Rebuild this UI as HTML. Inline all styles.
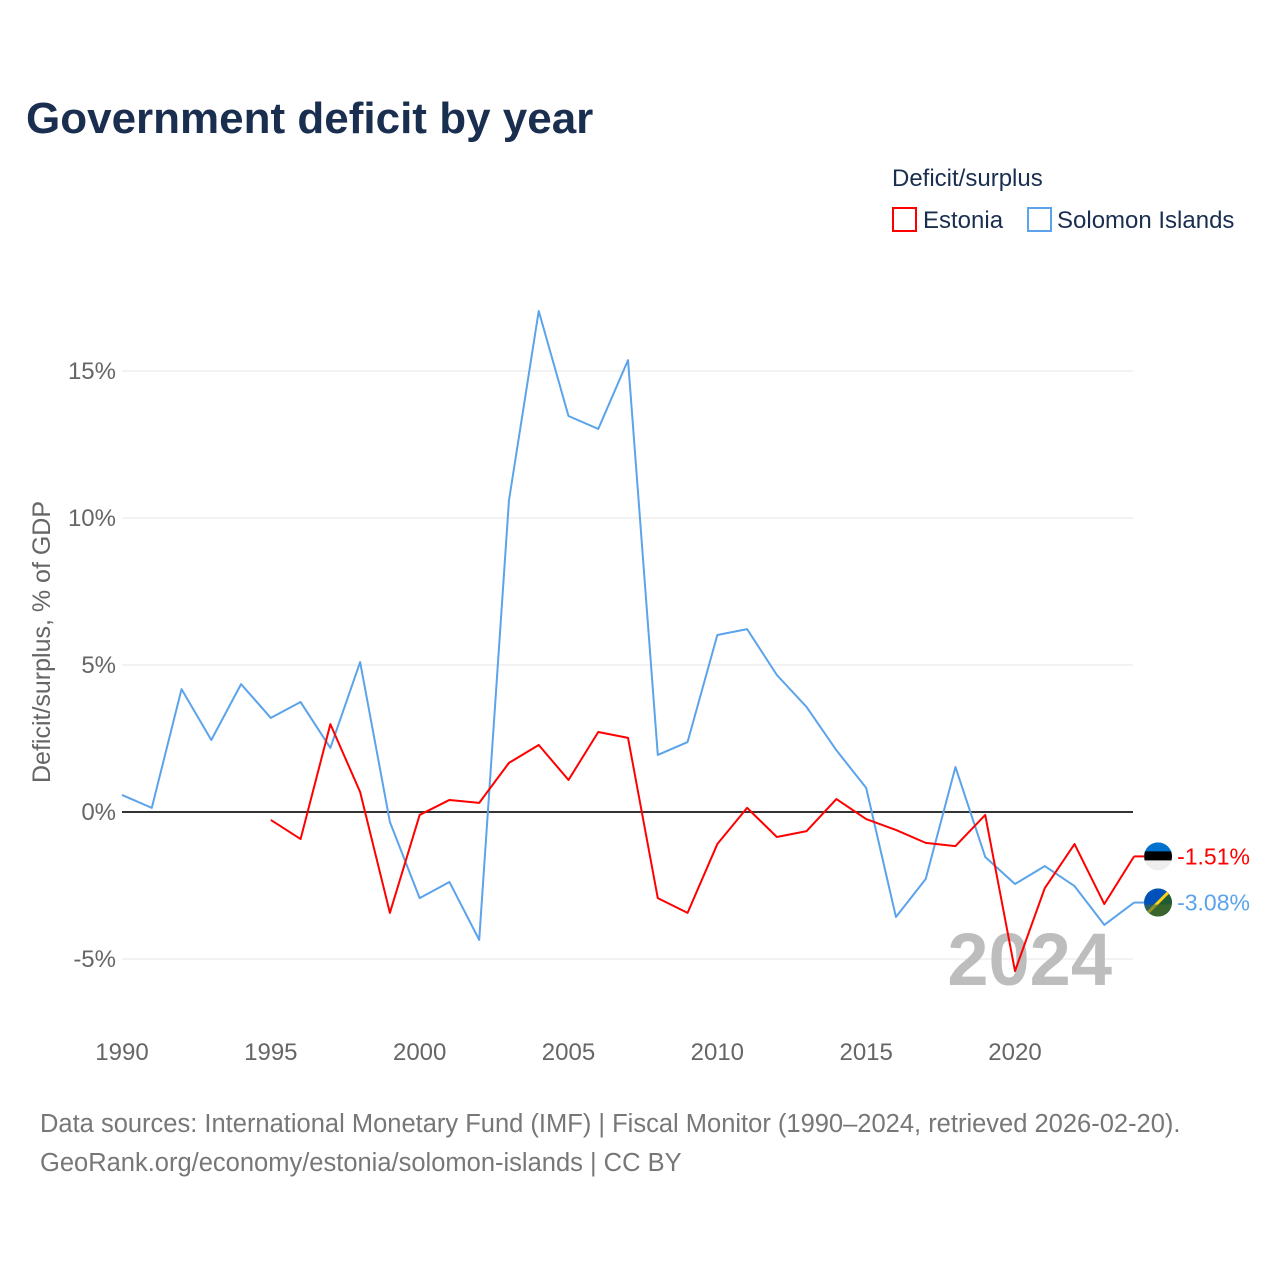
<!DOCTYPE html>
<html><head><meta charset="utf-8"><style>
html,body{margin:0;padding:0;background:#fff;}
body{width:1280px;height:1280px;position:relative;overflow:hidden;font-family:"Liberation Sans",sans-serif;}
</style></head><body>
<svg id="chart" width="1280" height="1280" xmlns="http://www.w3.org/2000/svg" font-family="Liberation Sans, sans-serif">
<text x="26" y="133" font-size="44" font-weight="bold" fill="#1a2e4f">Government deficit by year</text>
<text x="892" y="186" font-size="24" fill="#1a2e4f">Deficit/surplus</text>
<rect x="893" y="208" width="23" height="23" fill="none" stroke="#ff0000" stroke-width="2"/>
<text x="923" y="228" font-size="24" fill="#1a2e4f">Estonia</text>
<rect x="1028" y="208" width="23" height="23" fill="none" stroke="#5ba3ea" stroke-width="2"/>
<text x="1057" y="228" font-size="24" fill="#1a2e4f">Solomon Islands</text>
<text transform="translate(50,642) rotate(-90)" text-anchor="middle" font-size="25" fill="#666">Deficit/surplus, % of GDP</text>
<g id="grid"></g>
<text x="1112" y="985" text-anchor="end" font-size="74" font-weight="bold" fill="#bdbdbd">2024</text>
<g id="series"></g>
<text x="40" y="1132" font-size="25.5" fill="#777">Data sources: International Monetary Fund (IMF) | Fiscal Monitor (1990–2024, retrieved 2026-02-20).</text>
<text x="40" y="1171" font-size="25.5" fill="#777">GeoRank.org/economy/estonia/solomon-islands | CC BY</text>
</svg>
<script>
const yTicks=[-5,0,5,10,15];
const xTicks=[1990,1995,2000,2005,2010,2015,2020];
const solYears=[1990,1991,1992,1993,1994,1995,1996,1997,1998,1999,2000,2001,2002,2003,2004,2005,2006,2007,2008,2009,2010,2011,2012,2013,2014,2015,2016,2017,2018,2019,2020,2021,2022,2023,2024];
const solValues=[0.58,0.14,4.18,2.45,4.35,3.2,3.74,2.18,5.1,-0.34,-2.93,-2.38,-4.35,10.6,17.04,13.47,13.03,15.37,1.94,2.38,6.02,6.22,4.66,3.57,2.1,0.82,-3.57,-2.28,1.53,-1.53,-2.45,-1.84,-2.52,-3.84,-3.08];
const estYears=[1995,1996,1997,1998,1999,2000,2001,2002,2003,2004,2005,2006,2007,2008,2009,2010,2011,2012,2013,2014,2015,2016,2017,2018,2019,2020,2021,2022,2023,2024];
const estValues=[-0.27,-0.92,2.99,0.68,-3.43,-0.1,0.41,0.31,1.67,2.28,1.09,2.72,2.52,-2.93,-3.43,-1.09,0.14,-0.85,-0.65,0.44,-0.24,-0.61,-1.05,-1.16,-0.1,-5.41,-2.59,-1.09,-3.13,-1.51];
const NS="http://www.w3.org/2000/svg";
const xs=y=>122+(y-1990)*(1015-122)/30;
const ys=v=>812-v*29.4;
const grid=document.getElementById('grid');
const series=document.getElementById('series');
function mk(tag,attrs,parent){const e=document.createElementNS(NS,tag);for(const k in attrs)e.setAttribute(k,attrs[k]);parent.appendChild(e);return e;}
yTicks.forEach(t=>{
  const l=mk('line',{x1:122,x2:1133,y1:ys(t),y2:ys(t),stroke:t===0?'#333':'#e6e6e6','stroke-width':t===0?2:1},grid);
  
  
  const tx=mk('text',{x:116,y:ys(t)+8,'text-anchor':'end','font-size':24,fill:'#666'},grid);
  tx.textContent=t+'%';
  
  
});
xTicks.forEach(t=>{
  const tx=mk('text',{x:xs(t),y:1060,'text-anchor':'middle','font-size':24,fill:'#666'},grid);
  tx.textContent=t;
  
  
});
function line(years,vals,color,name){
  const p=mk('polyline',{points:years.map((y,i)=>xs(y)+','+ys(vals[i])).join(' '),fill:'none',stroke:color,'stroke-width':2,'stroke-linejoin':'round'},series);
  
  
}
line(solYears,solValues,'#5ba3ea','line-solomon-islands');
line(estYears,estValues,'#ff0000','line-estonia');
const ex=xs(2024);
const ey=ys(estValues[estValues.length-1]);
const sy=ys(solValues[solValues.length-1]);
const ef=mk('g',{},series);


const cpe=mk('clipPath',{id:'ce'},ef);
mk('circle',{cx:ex+24,cy:ey,r:14},cpe);
const eg=mk('g',{'clip-path':'url(#ce)'},ef);
mk('rect',{x:ex+10,y:ey-14,width:28,height:10,fill:'#0072ce'},eg);
mk('rect',{x:ex+10,y:ey-5,width:28,height:10,fill:'#000'},eg);
mk('rect',{x:ex+10,y:ey+4,width:28,height:10,fill:'#eee'},eg);
mk('line',{x1:ex,x2:ex+10,y1:ey,y2:ey,stroke:'#ff0000','stroke-width':2},ef);
const et=mk('text',{x:ex+43,y:ey+8,'font-size':23,fill:'#ff0000'},series);
et.textContent=estValues[estValues.length-1].toFixed(2)+'%';


const sf=mk('g',{},series);


const cp=mk('clipPath',{id:'cs'},sf);
mk('circle',{cx:ex+24,cy:sy,r:14},cp);
const sg=mk('g',{'clip-path':'url(#cs)'},sf);
mk('rect',{x:ex+10,y:sy-14,width:28,height:28,fill:'#215b33'},sg);
mk('polygon',{points:(ex+10)+','+(sy-14)+' '+(ex+38)+','+(sy-14)+' '+(ex+10)+','+(sy+14),fill:'#0051ba'},sg);
mk('line',{x1:ex+10,y1:sy+14,x2:ex+38,y2:sy-14,stroke:'#fcd116','stroke-width':3},sg);
mk('rect',{x:ex+10,y:sy+2,width:28,height:12,fill:'#4a6a2a',opacity:0.6},sg);
mk('line',{x1:ex,x2:ex+10,y1:sy,y2:sy,stroke:'#5ba3ea','stroke-width':2},sf);
const st=mk('text',{x:ex+43,y:sy+8,'font-size':23,fill:'#5ba3ea'},series);
st.textContent=solValues[solValues.length-1].toFixed(2)+'%';


</script>
</body></html>
